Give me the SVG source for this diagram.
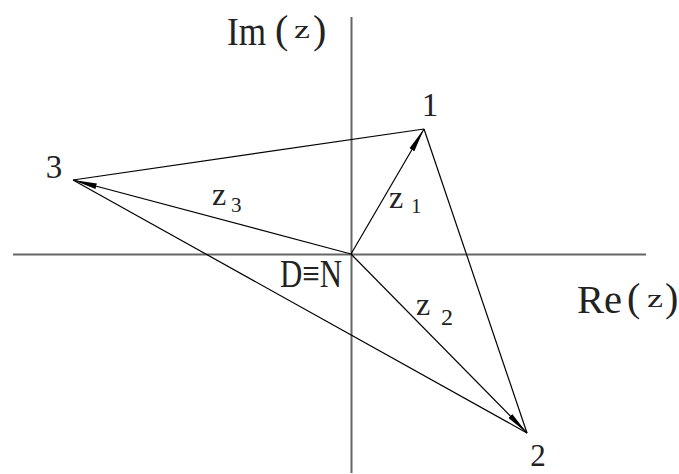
<svg xmlns="http://www.w3.org/2000/svg" width="679" height="474" viewBox="0 0 679 474">
<defs>
<marker id="ah" markerUnits="userSpaceOnUse" markerWidth="24" markerHeight="10" viewBox="0 0 24 10" refX="24" refY="5" orient="auto">
<path d="M0,2.2 L24,5 L0,7.8 Z" fill="#000"/>
</marker>
<style>
.ax{stroke:#666;stroke-width:2;fill:none}
.ln{stroke:#000;stroke-width:1.2;fill:none}
.ar{stroke:#000;stroke-width:1.2;fill:none;marker-end:url(#ah)}
text{font-family:"Liberation Serif","DejaVu Serif",serif;fill:#222}
.big{font-size:33px}
.par{font-size:40px}
.zz{font-size:32px}
.zp{font-size:26px}
.sub{font-size:21px}
</style>
</defs>
<g id="axes">
<line class="ax" x1="351.5" y1="17" x2="351.5" y2="473"/>
<line class="ax" x1="13" y1="254.5" x2="646" y2="254.5"/>
</g>
<g id="connectors">
<line class="ln" x1="73" y1="180" x2="424" y2="129"/>
<line class="ln" x1="73" y1="180" x2="527" y2="433"/>
<line class="ln" x1="424" y1="129" x2="527" y2="433"/>
<line class="ar" x1="351" y1="254" x2="424" y2="129"/>
<line class="ar" x1="351" y1="254" x2="73" y2="180"/>
<line class="ar" x1="351" y1="254" x2="527" y2="433"/>
</g>
<g id="node-origin"><text class="par" x="280" y="287" textLength="62" lengthAdjust="spacingAndGlyphs">D≡N</text></g>
<g id="node-1"><text class="big" x="430" y="116" text-anchor="middle">1</text></g>
<g id="node-2"><text class="big" x="538" y="466" text-anchor="middle" style="font-size:31px">2</text></g>
<g id="node-3"><text class="big" x="54" y="178" text-anchor="middle">3</text></g>
<g id="label-im">
<text class="par" x="227" y="45" textLength="39" lengthAdjust="spacingAndGlyphs">Im</text>
<text class="par" x="275" y="43">(</text>
<text class="zp" x="294" y="38" textLength="16" lengthAdjust="spacingAndGlyphs">z</text>
<text class="par" x="313" y="43">)</text>
</g>
<g id="label-re">
<text class="par" x="577" y="313" textLength="45" lengthAdjust="spacingAndGlyphs">Re</text>
<text class="par" x="627" y="311">(</text>
<text class="zp" x="647" y="307" textLength="16" lengthAdjust="spacingAndGlyphs">z</text>
<text class="par" x="665" y="311">)</text>
</g>
<g id="label-z1"><text class="zz" x="389" y="208">z</text><text class="sub" x="411" y="213">1</text></g>
<g id="label-z2"><text class="zz" x="416" y="315">z</text><text class="sub" x="441" y="325" style="font-size:24px">2</text></g>
<g id="label-z3"><text class="zz" x="212" y="205">z</text><text class="sub" x="231" y="212">3</text></g>
</svg>
